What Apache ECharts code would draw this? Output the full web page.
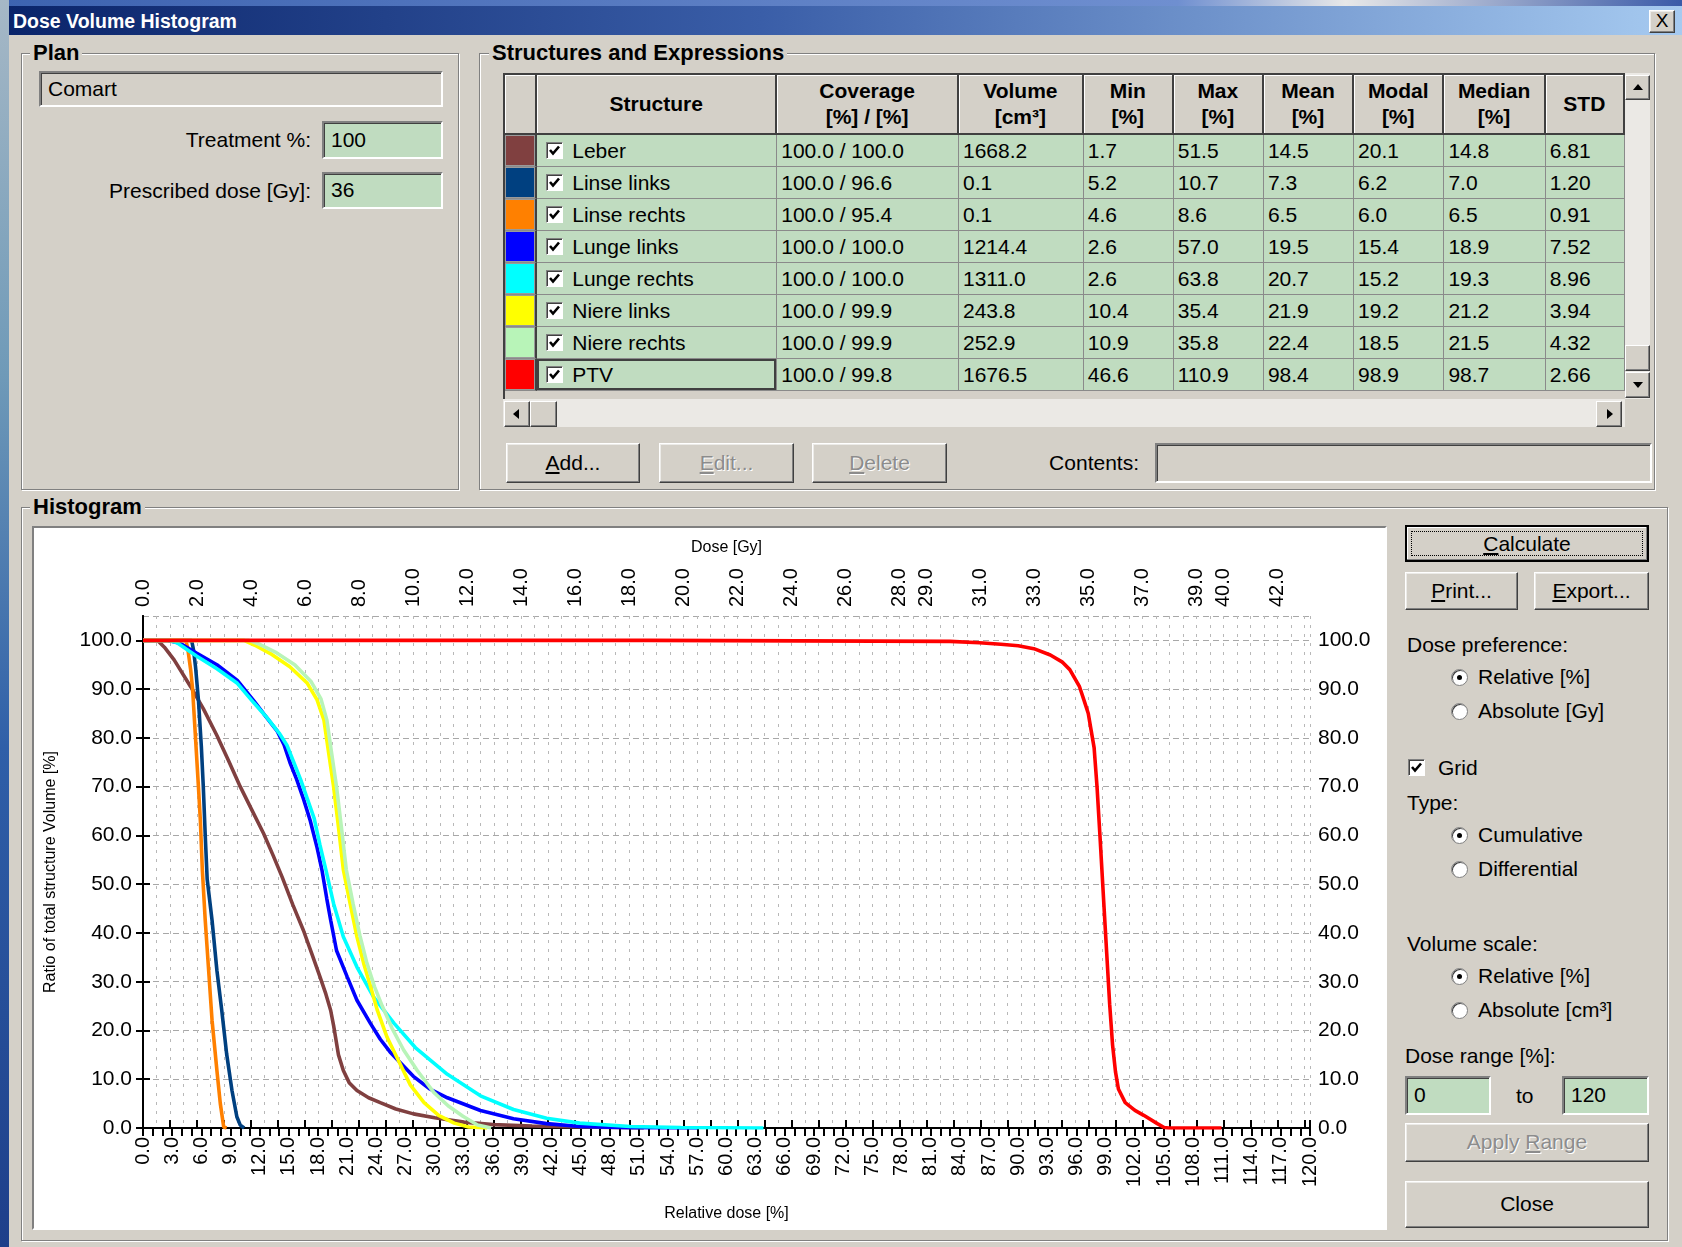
<!DOCTYPE html>
<html><head><meta charset="utf-8">
<script src="https://cdn.jsdelivr.net/npm/echarts@6/dist/echarts.min.js"></script>
<style>
*{box-sizing:border-box}
html,body{margin:0;padding:0}
body{width:1682px;height:1247px;position:relative;overflow:hidden;background:#D4D0C8;font-family:"Liberation Sans",Arial,sans-serif;color:#000;font-size:21px}
.lbl{position:absolute;white-space:nowrap;font-size:21px;line-height:24px}
.grp{position:absolute;border:1px solid #808080;box-shadow:inset 1px 1px 0 #fff,1px 1px 0 #fff}
.gt{position:absolute;background:#D4D0C8;padding:0 3px;font-weight:bold;font-size:22px;line-height:24px;white-space:nowrap}
.fld{position:absolute;border:2px solid;border-color:#808080 #fff #fff #808080;box-shadow:inset 1px 1px 0 #404040;padding-left:7px;font-size:21px;white-space:nowrap}
.green{background:#C0DCC0}
.btn{position:absolute;border:1px solid;border-color:#fff #404040 #404040 #fff;box-shadow:inset -1px -1px 0 #808080,inset 1px 1px 0 #ecebe8;text-align:center;font-size:21px;background:#D4D0C8;white-space:nowrap}
.dis{color:#8c8c8c;text-shadow:1px 1px 0 #fff}
.radio{position:absolute;width:17px;height:17px;border-radius:50%;background:#fff;border:1px solid #808080;box-shadow:inset 1px 1px 0 #404040}
.radio.on::after{content:"";position:absolute;left:5px;top:5px;width:5px;height:5px;border-radius:50%;background:#000}
.chk{position:absolute;width:17px;height:17px;background:#fff;border:1px solid;border-color:#808080 #fff #fff #808080;box-shadow:inset 1px 1px 0 #404040}
.chk svg{position:absolute;left:1px;top:1px}
#tblwrap{position:absolute;left:503px;top:73px;width:1122px;height:326px;overflow:hidden;background:#D4D0C8;border-left:2px solid #404040;border-top:2px solid #404040}
table{border-collapse:separate;border-spacing:0;table-layout:fixed}
th{height:60px;background:#D4D0C8;border-right:2px solid #404040;border-bottom:2px solid #404040;box-shadow:inset 1px 1px 0 #fff;font-weight:bold;font-size:21px;line-height:26px;padding:0;text-align:center;overflow:hidden;white-space:nowrap}
td{height:32px;background:#C0DCC0;border-right:1px solid #8a8a8a;border-bottom:1px solid #8a8a8a;font-size:21px;padding:0 0 0 4px;white-space:nowrap;overflow:hidden;position:relative}
td.sw{padding:0;border-right:2px solid #404040;box-shadow:inset 0 0 0 1px #9a9a9a}
td.nm{padding-left:35px}
td.sel{box-shadow:inset 0 0 0 2px #404040}
.sb{position:absolute;background:#ebe9e5}
.sbb{position:absolute;background:#D4D0C8;border:1px solid;border-color:#fff #404040 #404040 #fff;box-shadow:inset -1px -1px 0 #808080}
.tri{position:absolute;width:0;height:0}
</style></head>
<body>
<script>
// ---------------- table data ----------------
const structureNames = ['Leber','Linse links','Linse rechts','Lunge links','Lunge rechts','Niere links','Niere rechts','PTV'];
const structureColors = ['#804040','#004080','#FF8000','#0000FF','#00FFFF','#FFFF00','#B8F4B8','#FF0000'];
const coverage = ['100.0 / 100.0','100.0 / 96.6','100.0 / 95.4','100.0 / 100.0','100.0 / 100.0','100.0 / 99.9','100.0 / 99.9','100.0 / 99.8'];
const volumeCm3 = ['1668.2','0.1','0.1','1214.4','1311.0','243.8','252.9','1676.5'];
const minDose = ['1.7','5.2','4.6','2.6','2.6','10.4','10.9','46.6'];
const maxDose = ['51.5','10.7','8.6','57.0','63.8','35.4','35.8','110.9'];
const meanDose = ['14.5','7.3','6.5','19.5','20.7','21.9','22.4','98.4'];
const modalDose = ['20.1','6.2','6.0','15.4','15.2','19.2','18.5','98.9'];
const medianDose = ['14.8','7.0','6.5','18.9','19.3','21.2','21.5','98.7'];
const stdDose = ['6.81','1.20','0.91','7.52','8.96','3.94','4.32','2.66'];
const tableHeaders = ['', 'Structure', 'Coverage<br>[%] / [%]', 'Volume<br>[cm³]', 'Min<br>[%]', 'Max<br>[%]', 'Mean<br>[%]', 'Modal<br>[%]', 'Median<br>[%]', 'STD'];

// ---------------- chart data: relative dose [%], volume [%] ----------------
const prescribedDoseGy = 36;
const doseRangeMax = 120;
const doseGyLabels = [0,2,4,6,8,10,12,14,16,18,20,22,24,26,28,29,31,33,35,37,39,40,42];

const dvhLeber = [[0,100],[1.5,100],[2.2,98.6],[3.2,96],[4.9,90.5],[6.2,86],[7.6,80.5],[8.8,75.3],[10.0,70.0],[11.2,65.2],[12.4,60.4],[13.4,55.8],[14.3,51.5],[15.4,45.8],[16.5,40.5],[17.4,35.5],[18.2,31.0],[18.8,27.5],[19.3,24.1],[19.6,21.0],[19.8,18.6],[20.1,15.0],[20.6,11.8],[21.2,9.3],[22.0,7.7],[23.2,6.2],[24.4,5.2],[26.0,3.9],[27.8,2.9],[30.0,2.1],[33.0,1.2],[36.0,0.7],[40.0,0.4],[45.0,0.2],[51.5,0]];
const dvhLinseLinks = [[0,100],[5.0,100],[5.2,98],[5.4,94.6],[5.7,87.8],[6.0,78.2],[6.2,70],[6.4,60],[6.6,51],[7.1,42.6],[7.6,32.3],[8.1,24.1],[8.6,15.2],[9.15,7.7],[9.65,2.3],[10.0,0.6],[10.4,0]];
const dvhLinseRechts = [[0,100],[4.4,100],[4.6,98.4],[4.9,94],[5.1,90],[5.4,80],[5.7,70],[5.9,63],[6.1,53],[6.4,42.6],[6.75,32.3],[7.1,22.1],[7.6,11.8],[7.95,5],[8.3,0.2],[8.6,0]];
const dvhLungeLinks = [[0,100],[2.6,100],[3.8,99.4],[5.5,97.4],[7.6,95.0],[9.7,91.8],[11.4,87.6],[12.4,85.0],[13.8,81.4],[14.5,78.6],[15.1,75.0],[15.8,71.5],[16.5,67.5],[17.2,63.0],[17.9,57.5],[18.4,52.9],[18.9,47],[19.3,42.6],[19.9,36.4],[21.0,31.0],[22.0,26.2],[23.4,21.4],[24.4,18.2],[25.4,15.6],[27.8,10.6],[29.5,8.0],[31.3,6.2],[34.7,3.6],[38.1,1.9],[41.5,0.9],[44.9,0.3],[50.0,0.05],[57.0,0]];
const dvhLungeRechts = [[0,100],[2.6,100],[3.5,99.5],[5.5,96.8],[7.6,94.2],[9.7,91.2],[11.4,87.2],[12.6,84.5],[14.0,81.0],[14.8,78.5],[15.5,75.0],[16.2,71.5],[16.9,67.5],[17.6,63.5],[18.2,58],[18.8,53],[19.6,46.0],[20.6,39.2],[22.0,33.0],[23.7,26.9],[25.8,21.5],[28.0,16.5],[31.3,11.0],[34.7,6.6],[38.1,3.8],[41.5,2.0],[44.9,1.0],[50.1,0.3],[55.3,0.1],[63.8,0]];
const dvhNiereLinks = [[0,100],[10.4,100],[11.5,99],[13.1,97.3],[15.1,94.6],[16.9,91.2],[17.9,87.8],[18.6,83.7],[19.1,76.8],[19.6,70],[20.1,61.7],[20.6,53],[21.3,46.0],[22.0,39.2],[22.7,33.7],[23.4,29],[24.1,24.1],[25.1,18.6],[26.1,14.5],[27.5,8.8],[28.9,5.2],[30.4,2.6],[32.0,1.0],[33.5,0.2],[35.4,0]];
const dvhNiereRechts = [[0,100],[10.9,100],[12,99.2],[13.6,97.6],[15.6,95],[17.3,91.5],[18.3,88],[18.9,83.7],[19.4,76.8],[19.9,70],[20.4,61.7],[20.9,53],[21.6,46],[22.3,39.5],[23.0,34],[23.8,29],[24.6,25],[25.6,20.5],[26.8,16],[28.2,11.8],[29.9,7.3],[31.4,4.5],[32.9,2.4],[34.4,0.6],[35.8,0]];
const dvhPTV = [[0,100],[52,100],[52,99.8],[83,99.8],[86,99.5],[88.2,99.2],[90,98.9],[91.6,98.3],[93.3,97.0],[94.5,95.6],[95.3,94.0],[96.3,90.5],[96.8,87.5],[97.2,85.0],[97.5,81.5],[97.8,78.0],[98.1,70.0],[98.4,60.0],[98.8,46.0],[99.1,35.7],[99.4,25.4],[99.7,17],[100.0,11.5],[100.3,8.0],[101.0,5.2],[102.0,3.6],[102.9,2.6],[104.3,0.9],[105.0,0.1],[105.5,0],[110.9,0]];
const dvhData = [dvhLeber, dvhLinseLinks, dvhLinseRechts, dvhLungeLinks, dvhLungeRechts, dvhNiereLinks, dvhNiereRechts, dvhPTV];
</script>

<!-- desktop edges -->
<div style="position:absolute;left:0;top:0;width:1682px;height:6px;background:linear-gradient(90deg,#3d63b0,#6f8fd0 70%,#e8e8e8 80%,#3a5aa8)"></div>
<div style="position:absolute;left:0;top:0;width:9px;height:1247px;background:linear-gradient(180deg,#a6b8c6,#6f9ab8 30%,#2f5fa8 60%,#1e3f8a)"></div>

<!-- title bar -->
<div style="position:absolute;left:9px;top:6px;width:1673px;height:29px;background:linear-gradient(90deg,#0A246A,#3a5ea8 45%,#A6CAF0)"></div>
<div class="lbl" style="left:13px;top:9px;color:#fff;font-weight:bold;font-size:19.5px;line-height:24px">Dose Volume Histogram</div>
<div class="btn" style="left:1649px;top:10px;width:26px;height:23px;font-size:19px;line-height:20px">X</div>

<!-- Plan group -->
<div class="grp" style="left:21px;top:53px;width:438px;height:437px"></div>
<div class="gt" style="left:30px;top:41px">Plan</div>
<div class="fld" style="left:39px;top:71px;width:404px;height:36px;line-height:31px">Comart</div>
<div class="lbl" style="left:100px;top:128px;width:211px;text-align:right">Treatment %:</div>
<div class="fld green" style="left:322px;top:121px;width:121px;height:38px;line-height:33px">100</div>
<div class="lbl" style="left:60px;top:179px;width:251px;text-align:right">Prescribed dose [Gy]:</div>
<div class="fld green" style="left:322px;top:172px;width:121px;height:37px;line-height:32px">36</div>

<!-- Structures group -->
<div class="grp" style="left:479px;top:53px;width:1176px;height:437px"></div>
<div class="gt" style="left:489px;top:41px">Structures and Expressions</div>
<div id="tblwrap"></div>
<!-- vertical scrollbar -->
<div class="sb" style="left:1625px;top:73px;width:25px;height:326px"></div>
<div class="sbb" style="left:1625px;top:75px;width:25px;height:25px"><div class="tri" style="left:7px;top:8px;border-left:5px solid transparent;border-right:5px solid transparent;border-bottom:6px solid #000"></div></div>
<div class="sbb" style="left:1625px;top:345px;width:25px;height:26px"></div>
<div class="sbb" style="left:1625px;top:372px;width:25px;height:26px"><div class="tri" style="left:7px;top:9px;border-left:5px solid transparent;border-right:5px solid transparent;border-top:6px solid #000"></div></div>
<!-- horizontal scrollbar -->
<div class="sb" style="left:503px;top:399px;width:1122px;height:28px"></div>
<div class="sbb" style="left:504px;top:401px;width:26px;height:26px"><div class="tri" style="left:8px;top:7px;border-top:5px solid transparent;border-bottom:5px solid transparent;border-right:6px solid #000"></div></div>
<div class="sbb" style="left:530px;top:401px;width:27px;height:26px"></div>
<div class="sbb" style="left:1596px;top:401px;width:26px;height:26px"><div class="tri" style="left:10px;top:7px;border-top:5px solid transparent;border-bottom:5px solid transparent;border-left:6px solid #000"></div></div>
<div style="position:absolute;left:1625px;top:399px;width:25px;height:28px;background:#D4D0C8"></div>

<div class="btn" style="left:506px;top:443px;width:134px;height:40px;line-height:37px"><u>A</u>dd...</div>
<div class="btn dis" style="left:659px;top:443px;width:135px;height:40px;line-height:37px"><u>E</u>dit...</div>
<div class="btn dis" style="left:812px;top:443px;width:135px;height:40px;line-height:37px"><u>D</u>elete</div>
<div class="lbl" style="left:1000px;top:451px;width:139px;text-align:right">Contents:</div>
<div class="fld" style="left:1155px;top:443px;width:497px;height:40px"></div>

<!-- Histogram group -->
<div class="grp" style="left:21px;top:507px;width:1647px;height:734px"></div>
<div class="gt" style="left:30px;top:495px">Histogram</div>
<div style="position:absolute;left:32px;top:526px;width:1355px;height:704px;border:2px solid;border-color:#808080 #fff #fff #808080;background:#fff">
  <div id="chart" style="position:absolute;left:0;top:0;width:1351px;height:700px"></div>
</div>

<!-- right panel -->
<div class="btn" style="left:1405px;top:525px;width:244px;height:37px;line-height:33px;border:2px solid #000;box-shadow:inset -1px -1px 0 #808080, inset 1px 1px 0 #fff"><div style="position:absolute;left:4px;top:4px;right:4px;bottom:4px;border:1px dotted #000"></div><u>C</u>alculate</div>
<div class="btn" style="left:1405px;top:572px;width:113px;height:38px;line-height:35px"><u>P</u>rint...</div>
<div class="btn" style="left:1534px;top:572px;width:115px;height:38px;line-height:35px"><u>E</u>xport...</div>

<div class="lbl" style="left:1407px;top:633px">Dose preference:</div>
<div class="radio on" style="left:1451px;top:669px"></div><div class="lbl" style="left:1478px;top:665px">Relative [%]</div>
<div class="radio" style="left:1451px;top:703px"></div><div class="lbl" style="left:1478px;top:699px">Absolute [Gy]</div>
<div class="chk" style="left:1408px;top:759px"><svg width="13" height="13" viewBox="0 0 13 13"><polyline points="2,6 5,9.5 11,2.5" fill="none" stroke="#000" stroke-width="2.6"/></svg></div>
<div class="lbl" style="left:1438px;top:756px">Grid</div>
<div class="lbl" style="left:1407px;top:791px">Type:</div>
<div class="radio on" style="left:1451px;top:827px"></div><div class="lbl" style="left:1478px;top:823px">Cumulative</div>
<div class="radio" style="left:1451px;top:861px"></div><div class="lbl" style="left:1478px;top:857px">Differential</div>
<div class="lbl" style="left:1407px;top:932px">Volume scale:</div>
<div class="radio on" style="left:1451px;top:968px"></div><div class="lbl" style="left:1478px;top:964px">Relative [%]</div>
<div class="radio" style="left:1451px;top:1002px"></div><div class="lbl" style="left:1478px;top:998px">Absolute [cm³]</div>
<div class="lbl" style="left:1405px;top:1044px">Dose range [%]:</div>
<div class="fld green" style="left:1405px;top:1076px;width:86px;height:39px;line-height:34px">0</div>
<div class="lbl" style="left:1516px;top:1084px">to</div>
<div class="fld green" style="left:1562px;top:1076px;width:87px;height:39px;line-height:34px">120</div>
<div class="btn dis" style="left:1405px;top:1123px;width:244px;height:39px;line-height:36px">Apply <u>R</u>ange</div>
<div class="btn" style="left:1405px;top:1181px;width:244px;height:47px;line-height:44px">Close</div>

<script>
// build table
(function(){
  const colW = [33,242,183,126,91,91,91,91,102,80];
  let h = '<table><colgroup>' + colW.map(w => '<col style="width:' + w + 'px">').join('') + '</colgroup><tr>';
  tableHeaders.forEach(t => { h += '<th>' + t + '</th>'; });
  h += '</tr>';
  const chkSvg = '<span class="chk" style="left:9px;top:7px"><svg width="13" height="13" viewBox="0 0 13 13"><polyline points="2,6 5,9.5 11,2.5" fill="none" stroke="#000" stroke-width="2.6"/></svg></span>';
  structureNames.forEach((n, i) => {
    h += '<tr><td class="sw" style="background:' + structureColors[i] + '"></td>' +
      '<td class="nm' + (i === structureNames.length - 1 ? ' sel' : '') + '">' + chkSvg + n + '</td>' +
      '<td>' + coverage[i] + '</td><td>' + volumeCm3[i] + '</td><td>' + minDose[i] + '</td><td>' + maxDose[i] +
      '</td><td>' + meanDose[i] + '</td><td>' + modalDose[i] + '</td><td>' + medianDose[i] + '</td><td>' + stdDose[i] + '</td></tr>';
  });
  h += '</table>';
  document.getElementById('tblwrap').innerHTML = h;
})();

// chart
const FONT = '"Liberation Sans", Arial, sans-serif';
const chart = echarts.init(document.getElementById('chart'), null, {renderer: 'canvas'});
const fmt1 = v => Number(v).toFixed(1);
const axisBase = {
  axisLine: {show: true, lineStyle: {color: '#000', width: 2}},
  axisTick: {show: true, length: 8, lineStyle: {color: '#000', width: 2}},
  nameTextStyle: {fontSize: 16, color: '#000', fontFamily: FONT}
};
chart.setOption({
  animation: false,
  backgroundColor: '#fff',
  grid: {left: 109, top: 88, width: 1167, height: 512, outerBoundsMode: 'none', containLabel: false},
  xAxis: [
    Object.assign({}, axisBase, {
      type: 'value', position: 'bottom', min: 0, max: doseRangeMax, interval: 3,
      name: 'Relative dose [%]', nameLocation: 'middle', nameGap: 78,
      minorTick: {show: true, splitNumber: 3, length: 8, lineStyle: {color: '#000', width: 2}},
      axisLabel: {rotate: 90, margin: 9, fontSize: 20, color: '#000', fontFamily: FONT, formatter: fmt1},
      splitLine: {show: false}
    }),
    Object.assign({}, axisBase, {
      type: 'value', position: 'top', min: 0, max: doseRangeMax * prescribedDoseGy / 100, interval: 1,
      name: 'Dose [Gy]', nameLocation: 'middle', nameGap: 60,
      axisLabel: {rotate: 90, margin: 9, fontSize: 20, color: '#000', fontFamily: FONT, formatter: fmt1, customValues: doseGyLabels},
      splitLine: {show: false}
    }),
    {
      type: 'value', position: 'bottom', min: 0, max: doseRangeMax * prescribedDoseGy / 100, interval: 0.5,
      axisLine: {show: false}, axisTick: {show: false}, axisLabel: {show: false},
      splitLine: {show: true, lineStyle: {color: '#b8b8b8', width: 1, type: [3, 6]}}
    }
  ],
  yAxis: [
    Object.assign({}, axisBase, {
      type: 'value', position: 'left', min: 0, max: 105, interval: 10,
      name: 'Ratio of total structure Volume [%]', nameLocation: 'middle', nameGap: 84,
      axisTick: {show: true, length: 7, lineStyle: {color: '#000', width: 2}},
      axisLabel: {showMaxLabel: false, margin: 11, fontSize: 21, color: '#000', fontFamily: FONT, formatter: fmt1},
      splitLine: {show: true, lineStyle: {color: '#a8a8a8', width: 1, type: [6, 4]}}
    }),
    Object.assign({}, axisBase, {
      type: 'value', position: 'right', min: 0, max: 105, interval: 10,
      axisTick: {show: true, length: 7, lineStyle: {color: '#000', width: 2}},
      axisLabel: {showMaxLabel: false, margin: 8, fontSize: 21, color: '#000', fontFamily: FONT, formatter: fmt1},
      splitLine: {show: false}
    })
  ],
  series: dvhData.map((d, i) => ({
    type: 'line', name: structureNames[i], data: d, xAxisIndex: 0, yAxisIndex: 0,
    symbol: 'none', showSymbol: false, smooth: false, silent: true,
    lineStyle: {color: structureColors[i], width: 3.6},
    z: 3 + i
  }))
});
</script>
</body></html>
